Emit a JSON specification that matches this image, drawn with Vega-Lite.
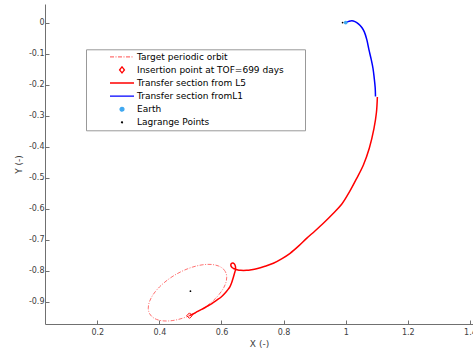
{
  "$schema": "https://vega.github.io/schema/vega-lite/v6.json",
  "autosize": {"type": "none"},
  "width": 428,
  "height": 320,
  "padding": {"left": 45, "top": 4, "right": 0, "bottom": 30},
  "background": "white",
  "config": {
    "view": {"stroke": null},
    "axis": {
      "grid": false,
      "domainColor": "#707070",
      "tickColor": "#707070",
      "labelColor": "#404040",
      "labelFont": "DejaVu Sans",
      "labelFontSize": 8,
      "titleFont": "DejaVu Sans",
      "titleFontSize": 9,
      "titleFontWeight": "normal",
      "titleColor": "#404040",
      "tickSize": -4,
      "labelFlush": false,
      "labelOverlap": false
    }
  },
  "data": {
    "values": [
      {"s": "Target periodic orbit", "i": 0, "x": 0.6122, "y": -0.8027},
      {"s": "Target periodic orbit", "i": 1, "x": 0.6067, "y": -0.7954},
      {"s": "Target periodic orbit", "i": 2, "x": 0.5992, "y": -0.7894},
      {"s": "Target periodic orbit", "i": 3, "x": 0.5899, "y": -0.7847},
      {"s": "Target periodic orbit", "i": 4, "x": 0.5788, "y": -0.7815},
      {"s": "Target periodic orbit", "i": 5, "x": 0.5663, "y": -0.7799},
      {"s": "Target periodic orbit", "i": 6, "x": 0.5525, "y": -0.7798},
      {"s": "Target periodic orbit", "i": 7, "x": 0.5375, "y": -0.7813},
      {"s": "Target periodic orbit", "i": 8, "x": 0.5218, "y": -0.7843},
      {"s": "Target periodic orbit", "i": 9, "x": 0.5056, "y": -0.7888},
      {"s": "Target periodic orbit", "i": 10, "x": 0.4891, "y": -0.7947},
      {"s": "Target periodic orbit", "i": 11, "x": 0.4726, "y": -0.8019},
      {"s": "Target periodic orbit", "i": 12, "x": 0.4564, "y": -0.8103},
      {"s": "Target periodic orbit", "i": 13, "x": 0.4408, "y": -0.8197},
      {"s": "Target periodic orbit", "i": 14, "x": 0.4261, "y": -0.8300},
      {"s": "Target periodic orbit", "i": 15, "x": 0.4125, "y": -0.8411},
      {"s": "Target periodic orbit", "i": 16, "x": 0.4002, "y": -0.8526},
      {"s": "Target periodic orbit", "i": 17, "x": 0.3894, "y": -0.8644},
      {"s": "Target periodic orbit", "i": 18, "x": 0.3804, "y": -0.8764},
      {"s": "Target periodic orbit", "i": 19, "x": 0.3733, "y": -0.8882},
      {"s": "Target periodic orbit", "i": 20, "x": 0.3681, "y": -0.8998},
      {"s": "Target periodic orbit", "i": 21, "x": 0.3651, "y": -0.9108},
      {"s": "Target periodic orbit", "i": 22, "x": 0.3642, "y": -0.9212},
      {"s": "Target periodic orbit", "i": 23, "x": 0.3654, "y": -0.9308},
      {"s": "Target periodic orbit", "i": 24, "x": 0.3688, "y": -0.9393},
      {"s": "Target periodic orbit", "i": 25, "x": 0.3743, "y": -0.9466},
      {"s": "Target periodic orbit", "i": 26, "x": 0.3818, "y": -0.9526},
      {"s": "Target periodic orbit", "i": 27, "x": 0.3911, "y": -0.9573},
      {"s": "Target periodic orbit", "i": 28, "x": 0.4022, "y": -0.9605},
      {"s": "Target periodic orbit", "i": 29, "x": 0.4147, "y": -0.9621},
      {"s": "Target periodic orbit", "i": 30, "x": 0.4286, "y": -0.9622},
      {"s": "Target periodic orbit", "i": 31, "x": 0.4435, "y": -0.9607},
      {"s": "Target periodic orbit", "i": 32, "x": 0.4592, "y": -0.9577},
      {"s": "Target periodic orbit", "i": 33, "x": 0.4754, "y": -0.9532},
      {"s": "Target periodic orbit", "i": 34, "x": 0.4919, "y": -0.9473},
      {"s": "Target periodic orbit", "i": 35, "x": 0.5084, "y": -0.9401},
      {"s": "Target periodic orbit", "i": 36, "x": 0.5246, "y": -0.9317},
      {"s": "Target periodic orbit", "i": 37, "x": 0.5402, "y": -0.9223},
      {"s": "Target periodic orbit", "i": 38, "x": 0.5549, "y": -0.9120},
      {"s": "Target periodic orbit", "i": 39, "x": 0.5685, "y": -0.9010},
      {"s": "Target periodic orbit", "i": 40, "x": 0.5808, "y": -0.8894},
      {"s": "Target periodic orbit", "i": 41, "x": 0.5916, "y": -0.8776},
      {"s": "Target periodic orbit", "i": 42, "x": 0.6006, "y": -0.8656},
      {"s": "Target periodic orbit", "i": 43, "x": 0.6078, "y": -0.8538},
      {"s": "Target periodic orbit", "i": 44, "x": 0.6129, "y": -0.8422},
      {"s": "Target periodic orbit", "i": 45, "x": 0.6159, "y": -0.8312},
      {"s": "Target periodic orbit", "i": 46, "x": 0.6168, "y": -0.8208},
      {"s": "Target periodic orbit", "i": 47, "x": 0.6156, "y": -0.8112},
      {"s": "Target periodic orbit", "i": 48, "x": 0.6122, "y": -0.8027},
      {"s": "Transfer section from L5", "i": 0, "x": 0.497, "y": -0.945},
      {"s": "Transfer section from L5", "i": 1, "x": 0.510, "y": -0.939},
      {"s": "Transfer section from L5", "i": 2, "x": 0.520, "y": -0.933},
      {"s": "Transfer section from L5", "i": 3, "x": 0.536, "y": -0.925},
      {"s": "Transfer section from L5", "i": 4, "x": 0.552, "y": -0.916},
      {"s": "Transfer section from L5", "i": 5, "x": 0.569, "y": -0.906},
      {"s": "Transfer section from L5", "i": 6, "x": 0.585, "y": -0.895},
      {"s": "Transfer section from L5", "i": 7, "x": 0.599, "y": -0.885},
      {"s": "Transfer section from L5", "i": 8, "x": 0.611, "y": -0.873},
      {"s": "Transfer section from L5", "i": 9, "x": 0.620, "y": -0.862},
      {"s": "Transfer section from L5", "i": 10, "x": 0.627, "y": -0.852},
      {"s": "Transfer section from L5", "i": 11, "x": 0.633, "y": -0.838},
      {"s": "Transfer section from L5", "i": 12, "x": 0.638, "y": -0.822},
      {"s": "Transfer section from L5", "i": 13, "x": 0.642, "y": -0.808},
      {"s": "Transfer section from L5", "i": 14, "x": 0.645, "y": -0.797},
      {"s": "Transfer section from L5", "i": 15, "x": 0.645, "y": -0.787},
      {"s": "Transfer section from L5", "i": 16, "x": 0.642, "y": -0.779},
      {"s": "Transfer section from L5", "i": 17, "x": 0.637, "y": -0.775},
      {"s": "Transfer section from L5", "i": 18, "x": 0.632, "y": -0.777},
      {"s": "Transfer section from L5", "i": 19, "x": 0.630, "y": -0.783},
      {"s": "Transfer section from L5", "i": 20, "x": 0.634, "y": -0.790},
      {"s": "Transfer section from L5", "i": 21, "x": 0.641, "y": -0.794},
      {"s": "Transfer section from L5", "i": 22, "x": 0.650, "y": -0.797},
      {"s": "Transfer section from L5", "i": 23, "x": 0.662, "y": -0.799},
      {"s": "Transfer section from L5", "i": 24, "x": 0.681, "y": -0.799},
      {"s": "Transfer section from L5", "i": 25, "x": 0.697, "y": -0.797},
      {"s": "Transfer section from L5", "i": 26, "x": 0.713, "y": -0.794},
      {"s": "Transfer section from L5", "i": 27, "x": 0.740, "y": -0.786},
      {"s": "Transfer section from L5", "i": 28, "x": 0.767, "y": -0.776},
      {"s": "Transfer section from L5", "i": 29, "x": 0.795, "y": -0.761},
      {"s": "Transfer section from L5", "i": 30, "x": 0.821, "y": -0.744},
      {"s": "Transfer section from L5", "i": 31, "x": 0.848, "y": -0.721},
      {"s": "Transfer section from L5", "i": 32, "x": 0.874, "y": -0.696},
      {"s": "Transfer section from L5", "i": 33, "x": 0.901, "y": -0.672},
      {"s": "Transfer section from L5", "i": 34, "x": 0.928, "y": -0.647},
      {"s": "Transfer section from L5", "i": 35, "x": 0.958, "y": -0.617},
      {"s": "Transfer section from L5", "i": 36, "x": 0.987, "y": -0.586},
      {"s": "Transfer section from L5", "i": 37, "x": 1.012, "y": -0.546},
      {"s": "Transfer section from L5", "i": 38, "x": 1.035, "y": -0.503},
      {"s": "Transfer section from L5", "i": 39, "x": 1.057, "y": -0.459},
      {"s": "Transfer section from L5", "i": 40, "x": 1.076, "y": -0.405},
      {"s": "Transfer section from L5", "i": 41, "x": 1.091, "y": -0.342},
      {"s": "Transfer section from L5", "i": 42, "x": 1.099, "y": -0.290},
      {"s": "Transfer section from L5", "i": 43, "x": 1.102, "y": -0.240},
      {"s": "Transfer section fromL1", "i": 0, "x": 1.000, "y": 0.000},
      {"s": "Transfer section fromL1", "i": 1, "x": 1.010, "y": 0.004},
      {"s": "Transfer section fromL1", "i": 2, "x": 1.020, "y": 0.006},
      {"s": "Transfer section fromL1", "i": 3, "x": 1.030, "y": 0.003},
      {"s": "Transfer section fromL1", "i": 4, "x": 1.041, "y": -0.004},
      {"s": "Transfer section fromL1", "i": 5, "x": 1.052, "y": -0.016},
      {"s": "Transfer section fromL1", "i": 6, "x": 1.060, "y": -0.030},
      {"s": "Transfer section fromL1", "i": 7, "x": 1.068, "y": -0.055},
      {"s": "Transfer section fromL1", "i": 8, "x": 1.075, "y": -0.088},
      {"s": "Transfer section fromL1", "i": 9, "x": 1.082, "y": -0.118},
      {"s": "Transfer section fromL1", "i": 10, "x": 1.088, "y": -0.148},
      {"s": "Transfer section fromL1", "i": 11, "x": 1.092, "y": -0.180},
      {"s": "Transfer section fromL1", "i": 12, "x": 1.095, "y": -0.210},
      {"s": "Transfer section fromL1", "i": 13, "x": 1.096, "y": -0.238},
      {"s": "Insertion point at TOF=699 days", "i": 0, "x": 0.497, "y": -0.945},
      {"s": "Earth", "i": 0, "x": 1.0, "y": 0.0},
      {"s": "Lagrange Points", "i": 0, "x": 0.99, "y": 0.0},
      {"s": "Lagrange Points", "i": 1, "x": 0.5, "y": -0.866}
    ]
  },
  "encoding": {
    "x": {
      "field": "x", "type": "quantitative",
      "scale": {"domain": [0.0316, 1.41], "nice": false, "zero": false},
      "axis": {"title": "X (-)", "values": [0.2, 0.4, 0.6, 0.8, 1, 1.2, 1.4], "labelExpr": "format(datum.value, '~g')", "labelPadding": 8, "titlePadding": 3}
    },
    "y": {
      "field": "y", "type": "quantitative",
      "scale": {"domain": [-0.972, 0.06], "nice": false, "zero": false},
      "axis": {"title": "Y (-)", "values": [-0.9, -0.8, -0.7, -0.6, -0.5, -0.4, -0.3, -0.2, -0.1, 0], "labelExpr": "replace(format(datum.value, '~g'), '\u2212', '-')", "labelPadding": 5, "titlePadding": 5}
    },
    "order": {"field": "i", "type": "quantitative"}
  },
  "layer": [
    {
      "transform": [{"filter": "datum.s == 'Target periodic orbit'"}],
      "mark": {"type": "line", "strokeWidth": 1, "strokeDash": [4, 1.5, 1, 1.5], "interpolate": "catmull-rom"},
      "encoding": {
        "color": {
          "field": "s", "type": "nominal",
          "scale": {
            "domain": ["Target periodic orbit", "Insertion point at TOF=699 days", "Transfer section from L5", "Transfer section fromL1", "Earth", "Lagrange Points"],
            "range": ["#ff7070", "#ff0000", "#ff0000", "#0000ff", "#40a8f0", "#000000"]
          },
          "legend": {
            "title": null,
            "orient": "none",
            "legendX": 41,
            "legendY": 45.3,
            "padding": 1,
            "fillColor": "white",
            "strokeColor": "#999999",
            "symbolSize": 576,
            "symbolStrokeWidth": 1.3,
            "symbolOffset": 22,
            "clipHeight": 13,
            "rowPadding": 0.1,
            "labelOffset": 2,
            "labelFont": "DejaVu Sans",
            "labelFontSize": 9,
            "labelColor": "#000000",
            "labelLimit": 400,
            "labelExpr": "datum.value == 'Insertion point at TOF=699 days' ? datum.label + '\u2800\u2800\u2800' : datum.label",
            "encode": {
              "symbols": {
                "update": {
                  "shape": {"signal": "datum.value == 'Insertion point at TOF=699 days' ? 'M0,-0.25L0.2,0L0,0.25L-0.2,0Z' : datum.value == 'Earth' ? 'M-0.16,0A0.16,0.16,0,1,0,0.16,0A0.16,0.16,0,1,0,-0.16,0Z' : datum.value == 'Lagrange Points' ? 'M-0.04,0A0.04,0.04,0,1,0,0.04,0A0.04,0.04,0,1,0,-0.04,0Z' : 'M-1,0H1'"},
                  "stroke": {"signal": "datum.value == 'Target periodic orbit' ? '#ff7070' : datum.value == 'Transfer section fromL1' ? '#0000ff' : datum.value == 'Earth' ? '#40a8f0' : datum.value == 'Lagrange Points' ? '#000000' : '#ff0000'"},
                  "fill": {"signal": "datum.value == 'Earth' ? '#40a8f0' : datum.value == 'Lagrange Points' ? '#000000' : 'transparent'"},
                  "fillOpacity": {"signal": "datum.value == 'Earth' || datum.value == 'Lagrange Points' ? 1 : 0"},
                  "strokeDash": {"signal": "datum.value == 'Target periodic orbit' ? [4, 1.5, 1, 1.5] : [1, 0]"},
                  "opacity": {"value": 1}
                }
              }
            }
          }
        }
      }
    },
    {
      "transform": [{"filter": "datum.s == 'Transfer section from L5'"}],
      "mark": {"type": "line", "strokeWidth": 1.5, "interpolate": "catmull-rom"},
      "encoding": {"color": {"field": "s", "type": "nominal", "legend": null}}
    },
    {
      "transform": [{"filter": "datum.s == 'Insertion point at TOF=699 days'"}],
      "mark": {"type": "point", "shape": "diamond", "filled": false, "size": 30, "strokeWidth": 1, "opacity": 1},
      "encoding": {"color": {"field": "s", "type": "nominal", "legend": null}}
    },
    {
      "transform": [{"filter": "datum.s == 'Transfer section fromL1'"}],
      "mark": {"type": "line", "strokeWidth": 1.5, "interpolate": "catmull-rom"},
      "encoding": {"color": {"field": "s", "type": "nominal", "legend": null}}
    },
    {
      "transform": [{"filter": "datum.s == 'Earth'"}],
      "mark": {"type": "point", "shape": "circle", "filled": true, "size": 14, "opacity": 1},
      "encoding": {"color": {"field": "s", "type": "nominal", "legend": null}}
    },
    {
      "transform": [{"filter": "datum.s == 'Lagrange Points'"}],
      "mark": {"type": "point", "shape": "circle", "filled": true, "size": 3, "opacity": 1},
      "encoding": {"color": {"field": "s", "type": "nominal", "legend": null}}
    }
  ]
}
